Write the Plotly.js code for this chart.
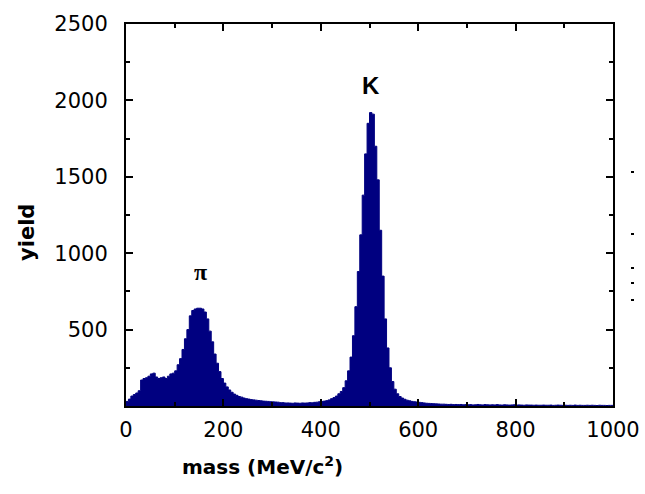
<!DOCTYPE html>
<html>
<head>
<meta charset="utf-8">
<script src="https://cdn.plot.ly/plotly-3.0.1.min.js"></script>
<style>html,body{margin:0;padding:0;background:#fff;}#chart{width:645px;height:494px;}</style>
</head>
<body>
<div id="chart"></div>
<script>
// Histogram: bin width 5 MeV, bins start at 0
const binWidth = 5;
const counts = [
  30,45,65,75,85,100,170,180,185,195,
  210,215,190,180,185,190,180,195,210,215,
  230,270,310,370,440,500,590,625,635,640,
  640,635,615,570,490,420,340,280,225,180,
  150,125,105,90,78,70,62,58,52,48,
  45,42,40,38,36,34,32,31,30,28,
  27,26,25,22,22,20,20,19,18,20,
  19,18,20,19,20,22,21,24,25,28,
  30,32,35,40,48,55,65,80,95,120,
  165,230,320,460,650,880,1120,1380,1650,1850,
  1920,1910,1700,1480,1150,850,570,380,250,160,
  110,80,62,52,44,38,34,30,28,26,
  24,22,20,18,17,16,15,14,13,12,
  12,11,10,11,9,10,9,10,8,9,
  8,9,7,8,10,8,7,9,8,7,
  8,7,9,7,6,8,7,6,7,8,
  6,7,6,5,7,6,6,5,6,5,
  5,6,5,5,6,4,5,6,5,4,
  5,4,5,4,6,4,5,4,4,5,
  4,5,4,3,5,4,4,3,4,4
];
const xTickVals = [0, 200, 400, 600, 800, 1000];
const yTickVals = [500, 1000, 1500, 2000, 2500];
const peakLabels = ["\u03c0", "K"];
const peakLabelX = [152, 503];
const peakLabelY = [880, 2100];
const xTitle = "mass (MeV/c<sup>2</sup>)";
const yTitle = "yield";

// step outline of the histogram (left edges + closing edge)
const stepX = counts.map((_, i) => i * binWidth).concat([counts.length * binWidth]);
const stepY = counts.concat([counts[counts.length - 1]]);

const tickFont = {family: "DejaVu Sans, Verdana, sans-serif", size: 21, color: "#000"};

const trace = {
  type: "scatter",
  mode: "lines",
  x: stepX,
  y: stepY,
  line: {shape: "hv", color: "#000080", width: 1},
  fill: "tozeroy",
  fillcolor: "#000080",
  hoverinfo: "x+y"
};

// plot area in pixels: x 126..613, y 24..406
const PL = 126, PW = 487, PB = 406, PH = 382;
const px = v => (v - PL) / PW;
const py = v => (PB - v) / PH;

// stray marks at right edge (cropped neighbour figure)
const strayY = [172, 234, 268, 283, 300];
const shapes = strayY.map(y => ({
  type: "line", xref: "paper", yref: "paper",
  x0: px(631), x1: px(634), y0: py(y), y1: py(y),
  line: {color: "#000", width: 2}
}));

const layout = {
  width: 645, height: 494,
  margin: {l: 126, r: 32, t: 24, b: 88},
  paper_bgcolor: "#fff", plot_bgcolor: "#fff",
  showlegend: false,
  shapes: shapes,
  xaxis: {
    range: [0, 1000],
    tickmode: "array", tickvals: xTickVals,
    ticks: "inside", ticklen: 7, tickwidth: 2, tickcolor: "#000",
    minor: {tickmode: "linear", tick0: 0, dtick: 100, ticks: "inside", ticklen: 4, tickwidth: 2, tickcolor: "#000"},
    showline: true, linewidth: 2, linecolor: "#000", mirror: "ticks",
    showgrid: false, zeroline: false,
    tickfont: tickFont,
    ticklabelstandoff: 4
  },
  yaxis: {
    range: [0, 2500],
    tickmode: "array", tickvals: yTickVals,
    ticks: "inside", ticklen: 7, tickwidth: 2, tickcolor: "#000",
    minor: {tickmode: "linear", tick0: 0, dtick: 250, ticks: "inside", ticklen: 4, tickwidth: 2, tickcolor: "#000"},
    showline: true, linewidth: 2, linecolor: "#000", mirror: "ticks",
    showgrid: false, zeroline: false,
    tickfont: tickFont,
    ticklabelstandoff: 12
  },
  annotations: [
    {x: peakLabelX[0], y: peakLabelY[0], xref: "x", yref: "y", text: "<b>" + peakLabels[0] + "</b>", showarrow: false,
     font: {family: "Liberation Serif, Times New Roman, serif", size: 24, color: "#000"}},
    {x: peakLabelX[1], y: peakLabelY[1], xref: "x", yref: "y", text: "<b>" + peakLabels[1] + "</b>", showarrow: false,
     font: {family: "Liberation Sans, Arial, sans-serif", size: 24, color: "#000"}},
    {x: px(262), y: py(466), xref: "paper", yref: "paper", xanchor: "center", yanchor: "middle",
     text: "<b>" + xTitle + "</b>", showarrow: false,
     font: {family: "DejaVu Sans, Verdana, sans-serif", size: 20, color: "#000"}},
    {x: px(27), y: py(233), xref: "paper", yref: "paper", xanchor: "center", yanchor: "middle",
     text: "<b>" + yTitle + "</b>", showarrow: false, textangle: -90,
     font: {family: "DejaVu Sans, Verdana, sans-serif", size: 21, color: "#000"}}
  ]
};

Plotly.newPlot("chart", [trace], layout, {displayModeBar: false, staticPlot: true});
</script>
</body>
</html>
